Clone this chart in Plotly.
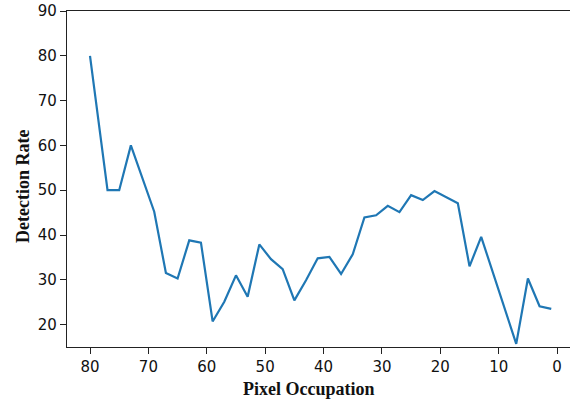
import plotly.graph_objects as go

pixel_occupation = [80, 77, 75, 73, 69, 67, 65, 63, 61, 59, 57, 55, 53, 51, 49, 47, 45, 43, 41,
                    39, 37, 35, 33, 31, 29, 27, 25, 23, 21, 17, 15, 13, 7, 5, 3, 1]
detection_rate = [80.0, 50.0, 50.0, 60.0, 45.2, 31.5, 30.3, 38.8, 38.3, 20.7, 25.1, 31.0, 26.2, 37.9,
                  34.6, 32.4, 25.4, 29.9, 34.8, 35.1, 31.3, 35.7, 43.9, 44.4, 46.5, 45.1, 48.9, 47.8,
                  49.8, 47.1, 33.0, 39.6, 15.7, 30.3, 24.1, 23.5]
x_ticks = [80, 70, 60, 50, 40, 30, 20, 10, 0]
y_ticks = [20, 30, 40, 50, 60, 70, 80, 90]

fig = go.Figure()
fig.add_trace(go.Scatter(x=pixel_occupation, y=detection_rate, mode="lines",
                         line=dict(color="#1f77b4", width=2.2)))

axis_common = dict(showgrid=False, zeroline=False, showline=True, linecolor="#222222",
                   linewidth=1.3, ticks="outside", ticklen=6, tickwidth=1.2, tickcolor="#222222",
                   tickfont=dict(family="DejaVu Sans", size=15, color="#111111"))

fig.update_layout(
    width=570, height=399,
    margin=dict(l=67, r=0, t=11, b=52),
    plot_bgcolor="white", paper_bgcolor="white",
    showlegend=False,
    xaxis=dict(range=[83.94, -2.21], tickvals=x_ticks, mirror=True, **axis_common),
    yaxis=dict(range=[15, 90], tickvals=y_ticks, **axis_common),
    annotations=[
        dict(text="<b>Pixel Occupation</b>", xref="paper", yref="paper", x=0.481, y=0,
             yshift=-42, xanchor="center", yanchor="middle", showarrow=False,
             font=dict(family="Liberation Serif", size=18, color="#111111")),
        dict(text="<b>Detection Rate</b>", xref="paper", yref="paper", x=0, y=0.5,
             xshift=-44, yshift=-8, xanchor="center", yanchor="middle", showarrow=False,
             textangle=-90, font=dict(family="Liberation Serif", size=18, color="#111111")),
    ],
)

fig.write_html("out.html", config={"displayModeBar": False},
               post_script="document.body.style.margin='0';document.body.style.overflow='hidden';")
